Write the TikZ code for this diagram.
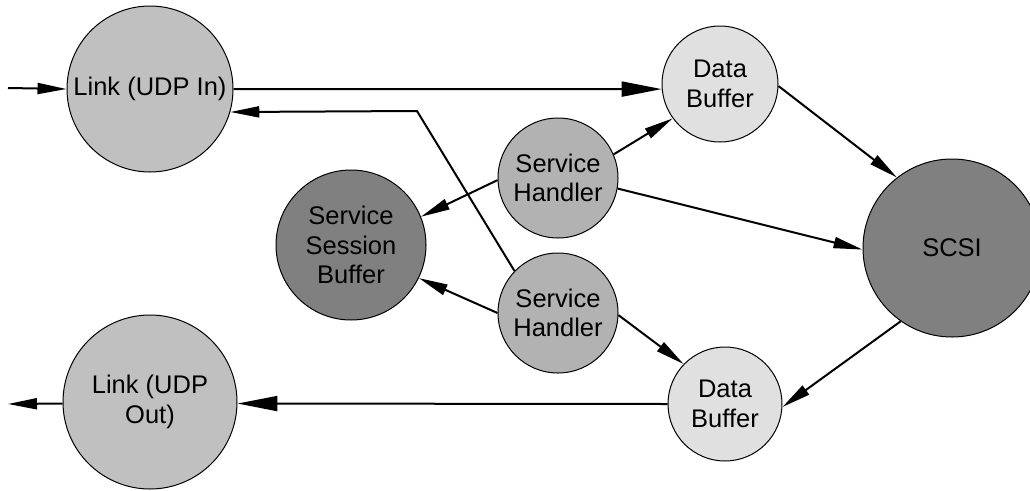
\documentclass[tikz,border=0pt]{standalone}
\usepackage{fontspec}
\setmainfont{Liberation Sans}
\usetikzlibrary{arrows.meta}
\definecolor{linkgray}{HTML}{C0C0C0}
\definecolor{bufgray}{HTML}{E0E0E0}
\definecolor{handgray}{HTML}{B2B2B2}
\definecolor{darkgray}{HTML}{808080}
\begin{document}
\begin{tikzpicture}[x=1pt,y=-1pt,
  state/.style={circle, draw=black, line width=1pt, inner sep=0pt, align=center,
    font=\fontsize{25.5}{29.5}\selectfont},
  linkst/.style={state, fill=linkgray},
  bufst/.style={state, fill=bufgray},
  handst/.style={state, fill=handgray},
  darkst/.style={state, fill=darkgray},
  conn/.style={line width=2pt, -{Triangle[length=29pt,width=11pt]}},
  bigconn/.style={line width=2pt, -{Triangle[length=40pt,width=15pt]}}
]
\useasboundingbox (0,0) rectangle (1030,490);

\node[linkst, minimum size=166pt] (linkin) at (150,89) {Link (UDP In)};
\node[bufst, minimum size=116pt] (db1) at (720,84) {Data\\Buffer};
\node[handst, minimum size=120pt] (sh1) at (558,178) {Service\\Handler};
\node[darkst, minimum size=150pt] (ssb) at (351,245) {Service\\Session\\Buffer};
\node[darkst, minimum size=178pt] (scsi) at (952,248) {SCSI};
\node[handst, minimum size=120pt] (sh2) at (558,313) {Service\\Handler};
\node[bufst, minimum size=114pt] (db2) at (725,404) {Data\\Buffer};
\node[linkst, minimum size=174pt] (linkout) at (150,402) {Link (UDP\\Out)};

\coordinate (inS) at (8,88);
\coordinate (outE) at (8,404);
\coordinate (bend) at (417,111);

\draw[conn] (inS) -- (linkin.west);
\draw[bigconn] (linkin.east) -- (db1.185);
\draw[conn] (sh2.136) -- (bend) -- (linkin.-16);
\draw[conn] (sh1.23) -- (db1.216);
\draw[conn] (sh1.182) -- (ssb.22);
\draw[conn] (sh1.-10) -- (scsi.181);
\draw[conn] (db1.-2) -- (scsi.128);
\draw[conn] (scsi.235) -- (db2.-3);
\draw[conn] (sh2.-2) -- (db2.136);
\draw[conn] (sh2.180) -- (ssb.-26);
\draw[bigconn] (db2.180) -- (linkout.-1);
\draw[conn] (linkout.181) -- (outE);
\end{tikzpicture}
\end{document}
